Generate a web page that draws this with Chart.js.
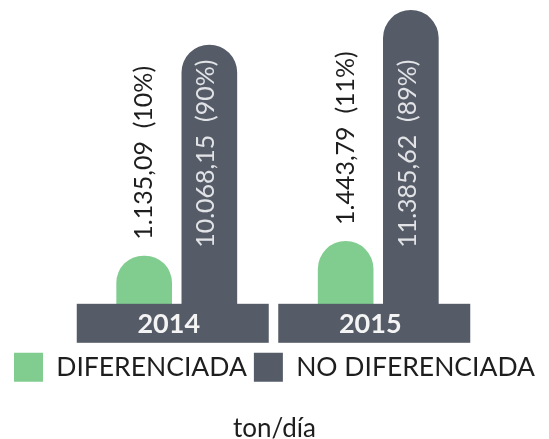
<!DOCTYPE html>
<html>
<head>
<meta charset="utf-8">
<script src="https://cdn.jsdelivr.net/npm/chart.js@4.4.1/dist/chart.umd.min.js"></script>
<style>
  html, body { margin: 0; padding: 0; background: #fff; }
  #wrap { width: 549px; height: 439px; }
</style>
</head>
<body>
<div id="wrap"><canvas id="chart"></canvas></div>
<script>
// generación de residuos, ton/día
const years = ['2014', '2015'];
const diferenciada = [1135.09, 1443.79];
const noDiferenciada = [10068.15, 11385.62];
const pctDiferenciada = [10, 11];
const pctNoDiferenciada = [90, 89];

const GREEN = '#80cd8f';
const GRAY = '#555c68';
const FONT = 'Lato, "Open Sans", sans-serif';

// 1135.09 -> "1.135,09"
function fmt(v) {
  const parts = v.toFixed(2).split('.');
  const int = parts[0].replace(/\B(?=(\d{3})+(?!\d))/g, '.');
  return int + ',' + parts[1];
}

// year boxes under each group + rotated value labels
const decorPlugin = {
  id: 'decor',
  afterDatasetsDraw(chart) {
    const ctx = chart.ctx;
    const x = chart.scales.x;
    const area = chart.chartArea;

    ctx.save();
    years.forEach((yr, i) => {
      const cx = x.getPixelForValue(i) - 4;
      ctx.fillStyle = GRAY;
      ctx.fillRect(cx - 96, area.bottom - 6, 192, 39);
      ctx.fillStyle = '#f4f4f4';
      ctx.font = 'bold 27px ' + FONT;
      ctx.textAlign = 'center';
      ctx.textBaseline = 'middle';
      ctx.fillText(yr, cx - 4, area.bottom + 14);
    });

    ctx.font = '25px ' + FONT;
    ctx.textAlign = 'left';
    ctx.textBaseline = 'middle';

    chart.getDatasetMeta(0).data.forEach((bar, i) => {
      ctx.save();
      ctx.translate(bar.x, bar.y - 16);
      ctx.rotate(-Math.PI / 2);
      ctx.fillStyle = '#1e1e1e';
      ctx.fillText(fmt(diferenciada[i]) + '  (' + pctDiferenciada[i] + '%)', 0, 0);
      ctx.restore();
    });

    chart.getDatasetMeta(1).data.forEach((bar, i) => {
      ctx.save();
      ctx.translate(bar.x - 3, bar.base - 62);
      ctx.rotate(-Math.PI / 2);
      ctx.fillStyle = '#e2e3e6';
      ctx.fillText(fmt(noDiferenciada[i]) + '  (' + pctNoDiferenciada[i] + '%)', 0, 0);
      ctx.restore();
    });
    ctx.restore();
  }
};

// hidden axes only used to reserve side margins
const hiddenAxis = (pos, w, max) => ({
  position: pos,
  display: true,
  min: 0,
  max: max,
  grid: { display: false },
  border: { display: false },
  ticks: { display: false },
  afterFit(axis) { axis.width = w; },
});

new Chart(document.getElementById('chart'), {
  type: 'bar',
  data: {
    labels: years,
    datasets: [
      {
        label: 'DIFERENCIADA',
        data: diferenciada,
        backgroundColor: GREEN,
        yAxisID: 'y2',
        borderRadius: { topLeft: 100, topRight: 100 },
        borderSkipped: 'bottom',
      },
      {
        label: 'NO DIFERENCIADA',
        data: noDiferenciada,
        backgroundColor: GRAY,
        yAxisID: 'y',
        borderRadius: { topLeft: 100, topRight: 100 },
        borderSkipped: 'bottom',
      },
    ],
  },
  options: {
    responsive: true,
    maintainAspectRatio: false,
    animation: false,
    categoryPercentage: 0.647,
    barPercentage: 0.854,
    layout: {
      padding: { left: 0, right: 0, top: 0, bottom: 0 },
    },
    scales: {
      x: {
        display: true,
        grid: { display: false },
        border: { display: false },
        ticks: { display: false },
        afterFit(axis) { axis.height = 36; },
      },
      y: hiddenAxis('left', 76, 11765),
      y2: hiddenAxis('right', 70, 6500),
    },
    plugins: {
      tooltip: { enabled: false },
      legend: {
        position: 'bottom',
        labels: {
          boxWidth: 29,
          boxHeight: 29,
          padding: 7,
          color: '#1e1e1e',
          font: { family: FONT, size: 26.5 },
        },
      },
      title: {
        display: true,
        position: 'bottom',
        text: 'ton/día',
        color: '#1e1e1e',
        font: { family: FONT, size: 26, weight: 'normal' },
        padding: { top: 21, bottom: -5 },
      },
    },
  },
  plugins: [decorPlugin],
});
</script>
</body>
</html>
